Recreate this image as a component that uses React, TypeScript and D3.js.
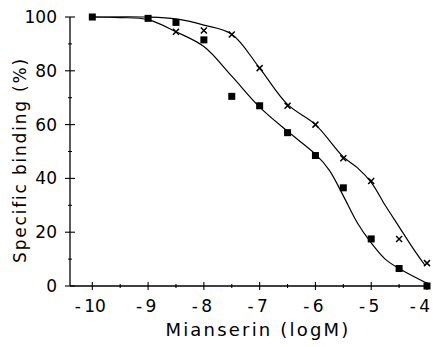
import React, { useEffect, useRef } from 'react';
import * as d3 from 'd3';

// log concentration of mianserin
const squareX = [-10, -9, -8.5, -8, -7.5, -7, -6.5, -6, -5.5, -5, -4.5, -4];
const squareY = [100, 99.5, 98, 91.5, 70.5, 67, 57, 48.5, 36.5, 17.5, 6.5, 0];

const crossX = [-8.5, -8, -7.5, -7, -6.5, -6, -5.5, -5, -4.5, -4];
const crossY = [94.5, 95, 93.5, 81, 67, 60, 47.5, 39, 17.5, 8.5];

// fitted curves
const fitSquareX = [-10, -9.5, -9, -8.5, -8, -7.5, -7, -6.5, -6, -5.75, -5.5, -5.25, -5, -4.75, -4.5, -4];
const fitSquareY = [100, 99.8, 99, 94.5, 89, 78, 66.5, 57.5, 49, 43, 33.5, 23.5, 16, 10, 6.5, 1];

const fitCrossX = [-10, -9, -8.5, -8, -7.5, -7, -6.5, -6, -5.5, -5.25, -5, -4.75, -4.5, -4.25, -4.04];
const fitCrossY = [100, 100, 99.3, 97, 93.6, 81, 67.5, 60, 48, 44, 38.5, 30, 22, 14, 7.8];

const xTicks = [-10, -9, -8, -7, -6, -5, -4];
const xMinor = [-9.5, -8.5, -7.5, -6.5, -5.5, -4.5];
const yTicks = [0, 20, 40, 60, 80, 100];
const yMinor = [10, 30, 50, 70, 90];

const width = 433;
const height = 347;
const font = '"DejaVu Sans", sans-serif';

export default function App() {
  const ref = useRef<SVGSVGElement>(null);

  useEffect(() => {
    if (!ref.current) return;
    const svg = d3.select(ref.current);
    svg.selectAll('*').remove();

    const x = d3.scaleLinear().domain([-10.4, -4]).range([70, 427]);
    const y = d3.scaleLinear().domain([0, 100]).range([286, 17]);

    // axes
    svg.append('line')
      .attr('x1', x(-10.4)).attr('x2', x(-4))
      .attr('y1', y(0)).attr('y2', y(0))
      .attr('stroke', '#000').attr('stroke-width', 1.3);
    svg.append('line')
      .attr('x1', x(-10.4)).attr('x2', x(-10.4))
      .attr('y1', y(0)).attr('y2', y(100))
      .attr('stroke', '#000').attr('stroke-width', 1.3);

    svg.append('g').selectAll('line').data(xTicks).enter().append('line')
      .attr('x1', (d) => x(d)).attr('x2', (d) => x(d))
      .attr('y1', y(0) - 4).attr('y2', y(0) + 4)
      .attr('stroke', '#000').attr('stroke-width', 1.1);
    svg.append('g').selectAll('line').data(xMinor).enter().append('line')
      .attr('x1', (d) => x(d)).attr('x2', (d) => x(d))
      .attr('y1', y(0) - 2).attr('y2', y(0) + 2)
      .attr('stroke', '#000').attr('stroke-width', 1.1);
    svg.append('g').selectAll('line').data(yTicks).enter().append('line')
      .attr('x1', x(-10.4) - 5).attr('x2', x(-10.4) + 5)
      .attr('y1', (d) => y(d)).attr('y2', (d) => y(d))
      .attr('stroke', '#000').attr('stroke-width', 1.1);
    svg.append('g').selectAll('line').data(yMinor).enter().append('line')
      .attr('x1', x(-10.4) - 2).attr('x2', x(-10.4) + 2)
      .attr('y1', (d) => y(d)).attr('y2', (d) => y(d))
      .attr('stroke', '#000').attr('stroke-width', 1);

    // last label sits against the right edge
    svg.append('g').selectAll('text').data(xTicks).enter().append('text')
      .attr('x', (d) => (d === -4 ? x(d) - 7 : x(d) - 2)).attr('y', 312)
      .attr('text-anchor', 'middle')
      .attr('font-family', font).attr('font-size', 17)
      .text((d) => '-\u2009' + Math.abs(d));
    svg.append('g').selectAll('text').data(yTicks).enter().append('text')
      .attr('x', 57).attr('y', (d) => y(d) + 6)
      .attr('text-anchor', 'end')
      .attr('font-family', font).attr('font-size', 17)
      .text((d) => d);

    svg.append('text')
      .attr('x', 258).attr('y', 336)
      .attr('text-anchor', 'middle')
      .attr('font-family', font).attr('font-size', 18)
      .attr('letter-spacing', 2.2)
      .text('Mianserin (logM)');
    svg.append('text')
      .attr('transform', 'translate(26,160) rotate(-90)')
      .attr('text-anchor', 'middle')
      .attr('font-family', font).attr('font-size', 17)
      .attr('letter-spacing', 1.8)
      .text('Specific binding (%)');

    // curves
    const line = d3.line<number>()
      .curve(d3.curveCatmullRom.alpha(0.5));
    svg.append('path')
      .attr('d', line.x((d) => x(fitSquareX[d])).y((d) => y(fitSquareY[d]))(d3.range(fitSquareX.length)))
      .attr('fill', 'none').attr('stroke', '#000').attr('stroke-width', 1.2);
    svg.append('path')
      .attr('d', line.x((d) => x(fitCrossX[d])).y((d) => y(fitCrossY[d]))(d3.range(fitCrossX.length)))
      .attr('fill', 'none').attr('stroke', '#000').attr('stroke-width', 1.2);

    // markers
    svg.append('g').selectAll('rect').data(d3.range(squareX.length)).enter().append('rect')
      .attr('x', (i) => x(squareX[i]) - 3.5).attr('y', (i) => y(squareY[i]) - 3.5)
      .attr('width', 7).attr('height', 7)
      .attr('fill', '#000');
    svg.append('g').selectAll('path').data(d3.range(crossX.length)).enter().append('path')
      .attr('d', (i) => {
        const cx = x(crossX[i]);
        const cy = y(crossY[i]);
        return `M${cx - 3},${cy - 3}L${cx + 3},${cy + 3}M${cx - 3},${cy + 3}L${cx + 3},${cy - 3}`;
      })
      .attr('stroke', '#000').attr('stroke-width', 1.5);
  }, []);

  return (
    <svg
      ref={ref}
      width={width}
      height={height}
      style={{ position: 'absolute', left: 0, top: 0, background: '#fff' }}
    />
  );
}
